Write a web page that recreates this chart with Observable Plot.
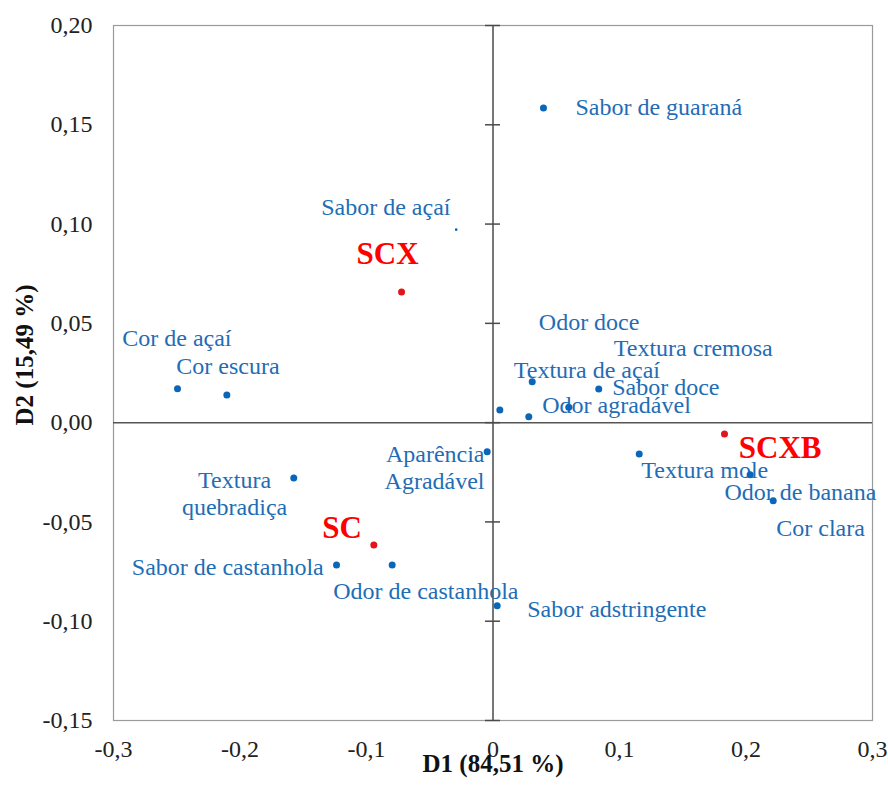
<!DOCTYPE html>
<html><head><meta charset="utf-8">
<script src="https://cdn.jsdelivr.net/npm/d3@7"></script>
<script src="https://cdn.jsdelivr.net/npm/@observablehq/plot@0.6"></script>
<style>body{margin:0;background:#fff}</style>
</head><body><div id="chart"></div>
<script>
// Sensory attributes (blue) – coordinates on D1 / D2
const attributes = ["Sabor de guaraná","Sabor de açaí","Cor de açaí","Cor escura","Odor doce","Textura cremosa","Textura de açaí","Sabor doce","Odor agradável","Aparência\nAgradável","Textura\nquebradiça","Sabor de castanhola","Odor de castanhola","Sabor adstringente","Textura mole","Odor de banana","Cor clara"];
const attrD1 = [0.0399,-0.0291,-0.2494,-0.2104,0.0054,0.0599,0.0310,0.0836,0.0283,-0.0046,-0.1575,-0.1237,-0.0797,0.0033,0.1156,0.2033,0.2215];
const attrD2 = [0.1585,0.0972,0.0171,0.0139,0.0064,0.0077,0.0206,0.0170,0.0030,-0.0146,-0.0279,-0.0717,-0.0717,-0.0922,-0.0158,-0.0262,-0.0393];
// where each attribute label sits (chart units) and its anchor
const attrLabelD1 = [0.0652,-0.1358,-0.2931,-0.2504,0.0362,0.0955,0.0164,0.0942,0.0389,-0.0067,-0.2043,-0.1338,-0.1263,0.0270,0.1172,0.1830,0.2239];
const attrLabelD2 = [0.1592,0.1088,0.0430,0.0287,0.0510,0.0379,0.0270,0.0185,0.0090,-0.0222,-0.0353,-0.0725,-0.0846,-0.0937,-0.0235,-0.0345,-0.0525];
const attrAnchor = ["start","start","start","start","start","start","start","start","start","end","middle","end","start","start","start","start","start"];
const attrHidden = ["Sabor de açaí"];

// Samples (red)
const samples = ["SCX","SC","SCXB"];
const sampleD1 = [-0.0723,-0.0942,0.1830];
const sampleD2 = [0.0658,-0.0616,-0.0057];
const sampleLabelD1 = [-0.0834,-0.1350,0.1943];
const sampleLabelD2 = [0.0848,-0.0529,-0.0126];
const sampleAnchor = ["middle","start","start"];

// Axes
const xTicks = [-0.3,-0.2,-0.1,0,0.1,0.2,0.3];
const xTickLabels = ["-0,3","-0,2","-0,1","0","0,1","0,2","0,3"];
const yTicks = [-0.15,-0.10,-0.05,0,0.05,0.10,0.15,0.20];
const yTickLabels = ["-0,15","-0,10","-0,05","0,00","0,05","0,10","0,15","0,20"];
const xTitle = "D1 (84,51 %)";
const yTitle = "D2 (15,49 %)";

const attrData = attributes.map((n,i)=>({name:n, x:attrD1[i], y:attrD2[i], lx:attrLabelD1[i], ly:attrLabelD2[i], anchor:attrAnchor[i], hidden: attrHidden.includes(n)}));
const sampleData = samples.map((n,i)=>({name:n, x:sampleD1[i], y:sampleD2[i], lx:sampleLabelD1[i], ly:sampleLabelD2[i], anchor:sampleAnchor[i]}));

const blueText = "#1f6db5", blueDot = "#0a66b8", redText = "#ff0000", redDot = "#e3151c";
const anchors = ["start","middle","end"];

const marks = [
  Plot.frame({stroke:"#9a9a9a", strokeWidth:1.2}),
  Plot.ruleX([0], {stroke:"#4a4a4a", strokeWidth:1.5}),
  Plot.ruleY([0], {stroke:"#555", strokeWidth:1.5}),
  Plot.ruleY(yTicks, {y:d=>d, x1:()=>0, x2:()=>0, insetLeft:-7.5, insetRight:-7.5, stroke:"#4a4a4a", strokeWidth:1.5}),
  Plot.axisX({ticks:xTicks, tickFormat:(d)=>xTickLabels[xTicks.indexOf(d)], tickSize:0, tickPadding:19, label:null, fill:"#222"}),
  Plot.axisY({ticks:yTicks, tickFormat:(d)=>yTickLabels[yTicks.findIndex(t=>Math.abs(t-d)<1e-9)], tickSize:0, tickPadding:21, label:null, fill:"#222"}),
  Plot.text([xTitle], {frameAnchor:"bottom", textAnchor:"middle", dy:51, text:d=>d, fontWeight:"bold", fontSize:25, fill:"#111"}),
  Plot.text([yTitle], {frameAnchor:"left", textAnchor:"middle", rotate:-90, dx:-89, dy:-18, text:d=>d, fontWeight:"bold", fontSize:25, fill:"#111"})
];
for (const a of anchors) {
  marks.push(Plot.text(attrData.filter(d=>d.anchor===a), {x:"lx", y:"ly", text:"name", textAnchor:a, fill:blueText, fontSize:24, lineHeight:1.13}));
  marks.push(Plot.text(sampleData.filter(d=>d.anchor===a), {x:"lx", y:"ly", text:"name", textAnchor:a, fill:redText, fontSize:31, fontWeight:"bold"}));
}
marks.push(Plot.dot(attrData.filter(d=>!d.hidden), {x:"x", y:"y", r:3.5, fill:blueDot}));
marks.push(Plot.dot(attrData.filter(d=>d.hidden), {x:"x", y:"y", r:1.3, fill:blueDot}));
marks.push(Plot.dot(sampleData, {x:"x", y:"y", r:3.5, fill:redDot}));

const chart = Plot.plot({
  width:888, height:785,
  marginLeft:113, marginRight:16, marginTop:25, marginBottom:65,
  x:{domain:[-0.3,0.3]},
  y:{domain:[-0.15,0.20]},
  style:{fontFamily:"'Liberation Serif', 'Times New Roman', serif", fontSize:"24px", background:"#fff", color:"#222"},
  marks
});
document.getElementById("chart").appendChild(chart);
</script>
</body></html>
